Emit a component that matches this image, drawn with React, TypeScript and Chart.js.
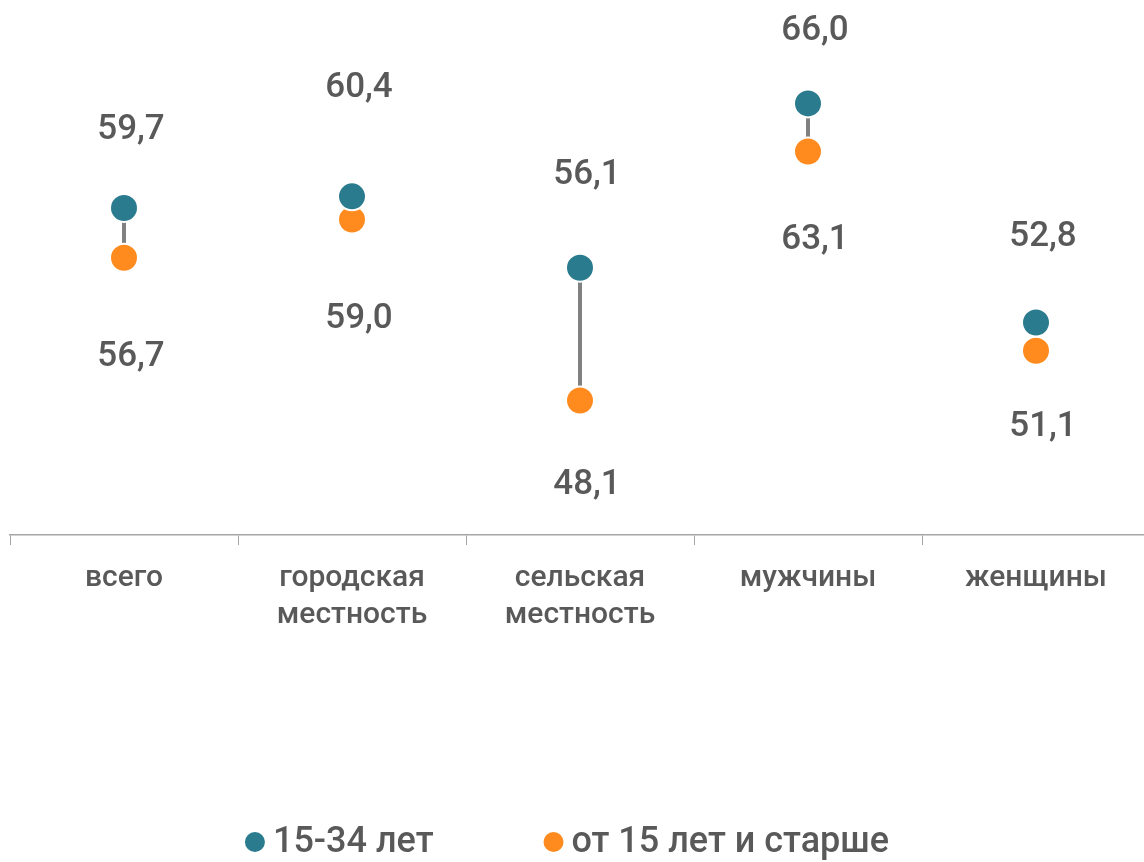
import React, { useEffect, useRef } from "react";
import { Chart, registerables } from "chart.js";

Chart.register(...registerables);

const categories: (string | string[])[] = [
  "всего",
  ["городская", "местность"],
  ["сельская", "местность"],
  "мужчины",
  "женщины",
];
const seriesNames = ["15-34 лет", "от 15 лет и старше"];
const youngValues = [59.7, 60.4, 56.1, 66.0, 52.8];
const allValues = [56.7, 59.0, 48.1, 63.1, 51.1];

const TEAL = "#2b7b8f";
const ORANGE = "#ff8b1f";
const TEXT = "#595959";
const FONT = "Roboto, 'Noto Sans', sans-serif";

// label placement (pixels, styling only)
const labelAbove = [78, 108, 92, 72, 85];
const labelBelow = [99, 100, 85, 89, 77];

const fmt = (v: number) => v.toFixed(1).replace(".", ",");

const connectorPlugin = {
  id: "connector",
  beforeDatasetsDraw(chart: any) {
    const a = chart.getDatasetMeta(0).data;
    const b = chart.getDatasetMeta(1).data;
    const ctx = chart.ctx;
    ctx.save();
    ctx.strokeStyle = "#808080";
    ctx.lineWidth = 4;
    for (let i = 0; i < a.length; i++) {
      ctx.beginPath();
      ctx.moveTo(a[i].x, a[i].y);
      ctx.lineTo(b[i].x, b[i].y);
      ctx.stroke();
    }
    ctx.restore();
  },
};

const labelPlugin = {
  id: "valueLabels",
  afterDatasetsDraw(chart: any) {
    const ctx = chart.ctx;
    ctx.save();
    ctx.font = `500 35px ${FONT}`;
    ctx.fillStyle = TEXT;
    ctx.textAlign = "center";
    ctx.textBaseline = "middle";
    const a = chart.getDatasetMeta(0).data;
    const b = chart.getDatasetMeta(1).data;
    for (let i = 0; i < a.length; i++) {
      ctx.fillText(fmt(youngValues[i]), a[i].x + 7, a[i].y - labelAbove[i]);
      ctx.fillText(fmt(allValues[i]), b[i].x + 7, b[i].y + labelBelow[i]);
    }
    ctx.restore();
  },
};

const legendPlugin = {
  id: "customLegend",
  afterDraw(chart: any) {
    const ctx = chart.ctx;
    ctx.save();
    ctx.font = `500 36px ${FONT}`;
    ctx.textBaseline = "middle";
    ctx.textAlign = "left";
    const r = 10;
    const gapText = 8;
    const gapItems = 110;
    const ds = chart.data.datasets;
    const widths = ds.map((d: any) => 2 * r + gapText + ctx.measureText(d.label).width);
    const total = widths.reduce((s: number, w: number) => s + w, 0) + gapItems * (ds.length - 1);
    let x = 567 - total / 2;
    const y = 842;
    ds.forEach((d: any, i: number) => {
      ctx.fillStyle = d.backgroundColor;
      ctx.beginPath();
      ctx.arc(x + r, y, r, 0, Math.PI * 2);
      ctx.fill();
      ctx.fillStyle = TEXT;
      ctx.fillText(d.label, x + 2 * r + gapText, y + 1);
      x += widths[i] + gapItems;
    });
    ctx.restore();
  },
};

export default function App() {
  const ref = useRef<HTMLCanvasElement>(null);
  useEffect(() => {
    if (!ref.current) return;
    const chart = new Chart(ref.current, {
      type: "line",
      data: {
        labels: categories,
        datasets: [
          {
            label: seriesNames[0],
            data: youngValues,
            showLine: false,
            backgroundColor: TEAL,
            pointBackgroundColor: TEAL,
            pointBorderColor: "#ffffff",
            pointBorderWidth: 2,
            pointRadius: 14,
            pointHoverRadius: 14,
          },
          {
            label: seriesNames[1],
            data: allValues,
            showLine: false,
            backgroundColor: ORANGE,
            pointBackgroundColor: ORANGE,
            pointBorderColor: "#ffffff",
            pointBorderWidth: 2,
            pointRadius: 14,
            pointHoverRadius: 14,
          },
        ],
      },
      options: {
        responsive: false,
        animation: false,
        events: [],
        layout: { autoPadding: false, padding: { left: 10, right: 10, top: 37, bottom: 213 } },
        plugins: {
          legend: { display: false },
          tooltip: { enabled: false },
        },
        scales: {
          x: {
            type: "category",
            offset: true,
            grid: {
              display: true,
              drawOnChartArea: false,
              drawTicks: true,
              tickLength: 10,
              color: "#a6a6a6",
              offset: true,
            },
            border: { display: true, color: "#a6a6a6", width: 1.5 },
            ticks: {
              color: TEXT,
              padding: 15,
              maxRotation: 0,
              autoSkip: false,
              font: { family: FONT, size: 30, weight: "500", lineHeight: 37 / 30 },
            },
          },
          y: {
            display: false,
            min: 40,
            max: 70,
          },
        },
      },
      plugins: [connectorPlugin, labelPlugin, legendPlugin],
    });
    return () => chart.destroy();
  }, []);
  return (
    <div style={{ position: "absolute", left: 0, top: 0, width: 1144, height: 862, overflow: "hidden", background: "#fff" }}>
      <canvas ref={ref} width={1160} height={862} style={{ width: 1160, height: 862, display: "block" }} />
    </div>
  );
}
